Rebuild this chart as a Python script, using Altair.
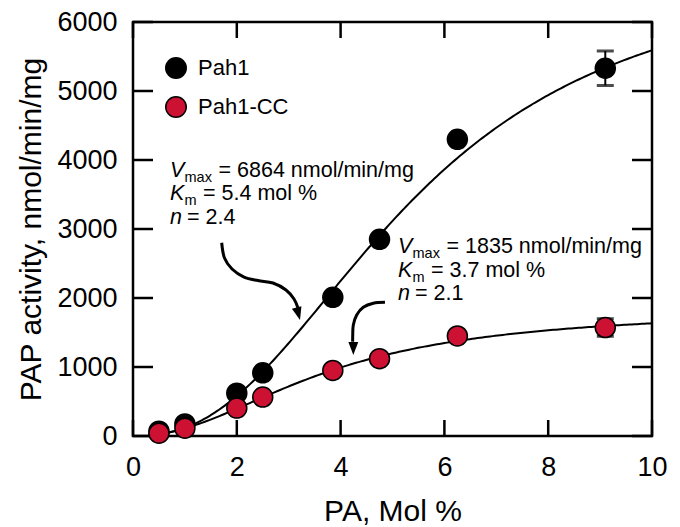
import altair as alt
import numpy as np
import pandas as pd

# ---------------- data ----------------
PA_MOL = [0.5, 1.0, 2.0, 2.5, 3.85, 4.75, 6.25, 9.1]
PAH1 = [70, 175, 620, 915, 2010, 2850, 4300, 5330]
PAH1_CC = [40, 112, 404, 564, 950, 1120, 1450, 1572]
SERIES = ["Pah1", "Pah1-CC"]
COLORS = ["#000000", "#cc1133"]
ERR_X = [9.1, 9.1]
ERR_LO = [5080, 1445]
ERR_HI = [5580, 1700]
# Hill fit parameters shown on the chart
VMAX = [6864, 1835]
KM = [5.4, 3.7]
HILL_N = [2.4, 2.1]
X_TICKS = [0, 2, 4, 6, 8, 10]
Y_TICKS = [0, 1000, 2000, 3000, 4000, 5000, 6000]

# annotation text
ANN_ITALIC = [["V", "K", "n"], ["V", "K", "n"]]
ANN_SUB = [["max", "m"], ["max", "m"]]
ANN_REST = [["= 6864 nmol/min/mg", "= 5.4 mol %", "= 2.4"],
            ["= 1835 nmol/min/mg", "= 3.7 mol %", "= 2.1"]]
# annotation anchors (data units)
ANN_X = [0.713, 5.106]
ANN_Y = [[3753, 3420, 3072], [2652, 2304, 1971]]

# curved arrows (data units)
ARROW1_X = [1.709, 1.763, 1.908, 2.139, 2.408, 2.697, 2.948, 3.102, 3.179]
ARROW1_Y = [2801, 2579, 2420, 2304, 2253, 2217, 2116, 1985, 1855]
ARROW2_X = [4.855, 4.630, 4.437, 4.310, 4.245, 4.233, 4.233]
ARROW2_Y = [1937, 1923, 1865, 1753, 1608, 1439, 1366]
TIP_X = [3.218, 4.245]
TIP_Y = [1681, 1174]
TIP_ANGLE = [345, 0]

FONT = "Liberation Sans"
W, H = 519, 414

# ---------------- frames ----------------
pts = pd.DataFrame({
    "x": PA_MOL * 2,
    "y": PAH1 + PAH1_CC,
    "series": [SERIES[0]] * len(PA_MOL) + [SERIES[1]] * len(PA_MOL),
})

grid = np.linspace(0.3, 10, 200)
curve_rows = []
for s, vm, km, nh in zip(SERIES, VMAX, KM, HILL_N):
    for g in grid:
        curve_rows.append({"x": g, "y": vm * g**nh / (km**nh + g**nh), "series": s})
curves = pd.DataFrame(curve_rows)

err = pd.DataFrame({"x": ERR_X, "y": ERR_LO, "y2": ERR_HI})
caps = pd.DataFrame({"x": ERR_X * 2, "y": ERR_LO + ERR_HI})

arrows = pd.DataFrame({
    "x": ARROW1_X + ARROW2_X,
    "y": ARROW1_Y + ARROW2_Y,
    "arrow": ["a1"] * len(ARROW1_X) + ["a2"] * len(ARROW2_X),
    "o": list(range(len(ARROW1_X))) + list(range(len(ARROW2_X))),
})
tips = pd.DataFrame({"x": TIP_X, "y": TIP_Y, "angle": TIP_ANGLE})

ital, sub, restV, restK, restN = [], [], [], [], []
for i in range(2):
    for j in range(3):
        ital.append({"x": ANN_X[i], "y": ANN_Y[i][j], "t": ANN_ITALIC[i][j]})
    for j in range(2):
        sub.append({"x": ANN_X[i], "y": ANN_Y[i][j], "t": ANN_SUB[i][j]})
    restV.append({"x": ANN_X[i], "y": ANN_Y[i][0], "t": ANN_REST[i][0]})
    restK.append({"x": ANN_X[i], "y": ANN_Y[i][1], "t": ANN_REST[i][1]})
    restN.append({"x": ANN_X[i], "y": ANN_Y[i][2], "t": ANN_REST[i][2]})

xs = alt.Scale(domain=[0, 10], nice=False, zero=False)
ys = alt.Scale(domain=[0, 6000], nice=False, zero=False)
xaxis = alt.Axis(values=X_TICKS, title="PA, Mol %", labelPadding=18, titlePadding=16,
                 labelFlush=False, format="d")
yaxis = alt.Axis(values=Y_TICKS, title="PAP activity, nmol/min/mg", labelPadding=16,
                 titlePadding=10, format="d")


def X(f="x"):
    return alt.X(f, type="quantitative", scale=xs, axis=xaxis)


def Y(f="y"):
    return alt.Y(f, type="quantitative", scale=ys, axis=yaxis)


curve_layer = alt.Chart(curves).mark_line(color="black", strokeWidth=2).encode(
    x=X(), y=Y(), detail="series:N")

arrow_layer = alt.Chart(arrows).mark_line(color="black", strokeWidth=3, interpolate="cardinal").encode(
    x=X(), y=Y(), detail="arrow:N", order="o:Q")

tip_layer = alt.Chart(tips).mark_point(
    shape="M -0.38 -1 L 0.38 -1 L 0 0 Z", filled=True, color="black", size=676, opacity=1
).encode(x=X(), y=Y(), angle=alt.Angle("angle:Q", scale=None))

MAIN_FS = 21.5
SUB_FS = 14.5
txt = dict(font=FONT, align="left", baseline="alphabetic", color="black")
ital_layer = alt.Chart(pd.DataFrame(ital)).mark_text(fontSize=MAIN_FS, fontStyle="italic", **txt).encode(
    x=X(), y=Y(), text="t:N")
sub_layer = alt.Chart(pd.DataFrame(sub)).mark_text(fontSize=SUB_FS, dx=14.5, dy=5, **txt).encode(
    x=X(), y=Y(), text="t:N")
restV_layer = alt.Chart(pd.DataFrame(restV)).mark_text(fontSize=MAIN_FS, dx=48.5, **txt).encode(
    x=X(), y=Y(), text="t:N")
restK_layer = alt.Chart(pd.DataFrame(restK)).mark_text(fontSize=MAIN_FS, dx=33, **txt).encode(
    x=X(), y=Y(), text="t:N")
restN_layer = alt.Chart(pd.DataFrame(restN)).mark_text(fontSize=MAIN_FS, dx=17, **txt).encode(
    x=X(), y=Y(), text="t:N")

err_layer = alt.Chart(err).mark_rule(color="black", strokeWidth=2).encode(
    x=X(), y=Y(), y2="y2:Q")
cap_layer = alt.Chart(caps).mark_tick(color="black", orient="horizontal", size=17, thickness=3).encode(
    x=X(), y=Y())

point_layer = alt.Chart(pts).mark_point(
    filled=True, size=400, stroke="black", strokeWidth=1.5, opacity=1
).encode(
    x=X(), y=Y(),
    color=alt.Color("series:N", scale=alt.Scale(domain=SERIES, range=COLORS),
                    legend=alt.Legend(title=None, orient="none", legendX=32, legendY=35,
                                      symbolType="circle", symbolSize=420,
                                      symbolStrokeColor="black", symbolStrokeWidth=1.5,
                                      symbolOpacity=1,
                                      labelFont=FONT, labelFontSize=22, labelColor="black",
                                      rowPadding=11, labelOffset=11, padding=0)),
)

tx = pd.DataFrame({"x": X_TICKS})
ty = pd.DataFrame({"y": Y_TICKS})
tick_style = dict(color="black", strokeWidth=2.5)
left_ticks = alt.Chart(ty).mark_rule(**tick_style).encode(y=Y(), x=alt.value(0), x2=alt.value(20))
right_ticks = alt.Chart(ty).mark_rule(**tick_style).encode(y=Y(), x=alt.value(W - 20), x2=alt.value(W))
bottom_ticks = alt.Chart(tx).mark_rule(**tick_style).encode(x=X(), y=alt.value(H - 16), y2=alt.value(H))
top_ticks = alt.Chart(tx).mark_rule(**tick_style).encode(x=X(), y=alt.value(0), y2=alt.value(16))

chart = alt.layer(
    left_ticks, right_ticks, bottom_ticks, top_ticks,
    curve_layer, arrow_layer, tip_layer,
    ital_layer, sub_layer, restV_layer, restK_layer, restN_layer,
    err_layer, cap_layer, point_layer,
).properties(
    width=W, height=H,
    autosize=alt.AutoSizeParams(type="none"),
    padding={"left": 125, "top": 14, "right": 16, "bottom": 92},
    background="white",
).configure_view(
    stroke="black", strokeWidth=2.5
).configure_axis(
    domain=False, ticks=False, grid=False,
    labelFont=FONT, labelFontSize=27, labelColor="black",
    titleFont=FONT, titleFontSize=30, titleFontWeight="normal", titleColor="black",
)

chart.save("out.html", embed_options={"renderer": "svg", "actions": False})
